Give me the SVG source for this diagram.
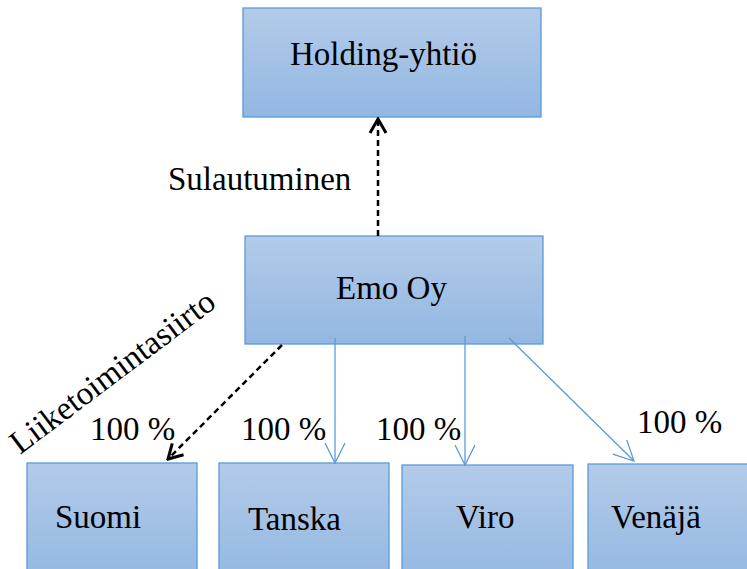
<svg xmlns="http://www.w3.org/2000/svg" width="747" height="569" viewBox="0 0 747 569">
  <defs>
    <linearGradient id="boxFill" x1="0" y1="0" x2="0" y2="1">
      <stop offset="0" stop-color="#b3cbe9"/>
      <stop offset="1" stop-color="#93b7e2"/>
    </linearGradient>
    <marker id="openBlack" viewBox="0 0 20 20" refX="18" refY="10" markerWidth="20" markerHeight="20" markerUnits="userSpaceOnUse" orient="auto">
      <path d="M4 2 L18 10 L4 18" fill="none" stroke="#000" stroke-width="3"/>
    </marker>
    <marker id="openBlue" viewBox="0 0 24 24" refX="22" refY="12" markerWidth="24" markerHeight="24" markerUnits="userSpaceOnUse" orient="auto">
      <path d="M2 2 L22 12 L2 22" fill="none" stroke="#5b9bd5" stroke-width="1.3"/>
    </marker>
  </defs>
  <style>
    .box { fill: url(#boxFill); stroke: #5b9bd5; stroke-width: 1.3; }
    .dash { fill: none; stroke: #000; stroke-width: 2.5; stroke-dasharray: 6 4; marker-end: url(#openBlack); }
    .own { fill: none; stroke: #5b9bd5; stroke-width: 1.3; marker-end: url(#openBlue); }
  </style>

  <g font-family="Liberation Serif" font-size="33">
    <g id="holding">
      <rect class="box" x="243" y="8" width="298" height="109"/>
      <text x="290" y="65">Holding-yhtiö</text>
    </g>
    <g id="emo">
      <rect class="box" x="245" y="236" width="298" height="108"/>
      <text x="336" y="299">Emo Oy</text>
    </g>
    <g id="suomi">
      <rect class="box" x="27" y="463" width="170" height="120"/>
      <text x="55" y="528">Suomi</text>
    </g>
    <g id="tanska">
      <rect class="box" x="219" y="463" width="170" height="120"/>
      <text x="248" y="530">Tanska</text>
    </g>
    <g id="viro">
      <rect class="box" x="402" y="465" width="171" height="120"/>
      <text x="456" y="528">Viro</text>
    </g>
    <g id="venaja">
      <rect class="box" x="588" y="464" width="170" height="120"/>
      <text x="611" y="528">Venäjä</text>
    </g>

    <g id="connectors">
      <line class="dash" x1="378" y1="236" x2="378" y2="119"/>
      <line class="dash" x1="282" y1="345" x2="168" y2="459"/>
      <line class="own" x1="335" y1="338" x2="335" y2="463"/>
      <line class="own" x1="465" y1="336" x2="465" y2="465"/>
      <line class="own" x1="509" y1="338" x2="634" y2="461"/>
      <text x="168" y="190">Sulautuminen</text>
      <text transform="translate(20 455) rotate(-37)">Liiketoimintasiirto</text>
      <text x="90" y="440">100 %</text>
      <text x="241" y="440">100 %</text>
      <text x="376" y="440">100 %</text>
      <text x="637" y="433">100 %</text>
    </g>
  </g>
</svg>
